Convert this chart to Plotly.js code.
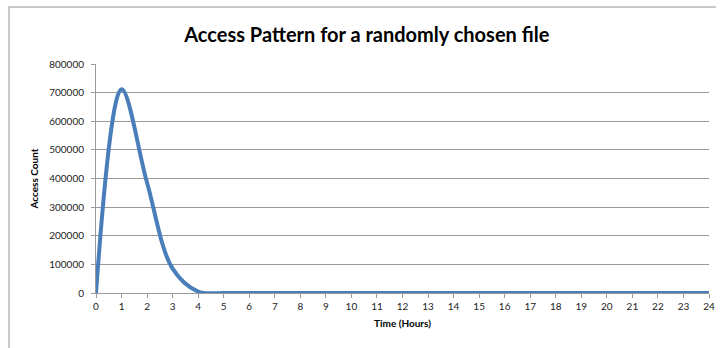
<!DOCTYPE html>
<html>
<head>
<meta charset="utf-8">
<script src="https://cdn.plot.ly/plotly-3.0.1.min.js"></script>
<style>
  html, body { margin: 0; padding: 0; background: #fff; }
  #wrap { position: relative; width: 722px; height: 348px; }
  #chart { width: 722px; height: 348px; }
  #frame { position: absolute; left: 8px; top: 6px; width: 706px; height: 360px;
           border-left: 2px solid #c9c9c9; border-top: 2px solid #c9c9c9; pointer-events: none; }
</style>
</head>
<body>
<div id="wrap">
  <div id="chart"></div>
  <div id="frame"></div>
</div>
<script>
const hours = [0,1,2,3,4,5,6,7,8,9,10,11,12,13,14,15,16,17,18,19,20,21,22,23,24];
const accessCount = [0,712000,385000,85000,5000,0,0,0,0,0,0,0,0,0,0,0,0,0,0,0,0,0,0,0,0];
const yTicks = [0,100000,200000,300000,400000,500000,600000,700000,800000];

const font = "Lato, 'Open Sans', sans-serif";

Plotly.newPlot('chart', [{
  x: hours,
  y: accessCount,
  type: 'scatter',
  mode: 'lines',
  line: { color: '#4a7ebb', width: 4, shape: 'spline', smoothing: 1 },
  hoverinfo: 'skip'
}], {
  width: 722, height: 348,
  margin: { l: 96, r: 13, t: 64, b: 55 },
  paper_bgcolor: '#ffffff',
  plot_bgcolor: '#ffffff',
  showlegend: false,
  title: {
    text: '<b>Access Pattern for a randomly chosen file</b>',
    font: { family: font, size: 20, color: '#000' },
    x: 0.508, xanchor: 'center', y: 0.9, yanchor: 'middle'
  },
  xaxis: {
    range: [0, 24],
    tickvals: hours,
    ticktext: hours.map(String),
    tickfont: { family: font, size: 10, color: '#222' },
    ticks: 'outside', ticklen: 4, tickcolor: '#9a9a9a',
    showline: true, linecolor: '#9a9a9a', linewidth: 1,
    showgrid: false, zeroline: false,
    title: { text: '<b>Time (Hours)</b>', font: { family: font, size: 10, color: '#000' }, standoff: 8 }
  },
  yaxis: {
    range: [0, 800000],
    tickvals: yTicks,
    ticktext: yTicks.map(String),
    tickfont: { family: font, size: 10, color: '#222' },
    ticks: 'outside', ticklen: 4, tickcolor: '#9a9a9a',
    ticklabelstandoff: 5,
    showline: true, linecolor: '#9a9a9a', linewidth: 1,
    showgrid: true, gridcolor: '#9a9a9a', gridwidth: 1,
    zeroline: false,
    title: { text: '<b>Access Count</b>', font: { family: font, size: 10, color: '#000' }, standoff: 8 }
  }
}, { displayModeBar: false, staticPlot: true });
</script>
</body>
</html>
